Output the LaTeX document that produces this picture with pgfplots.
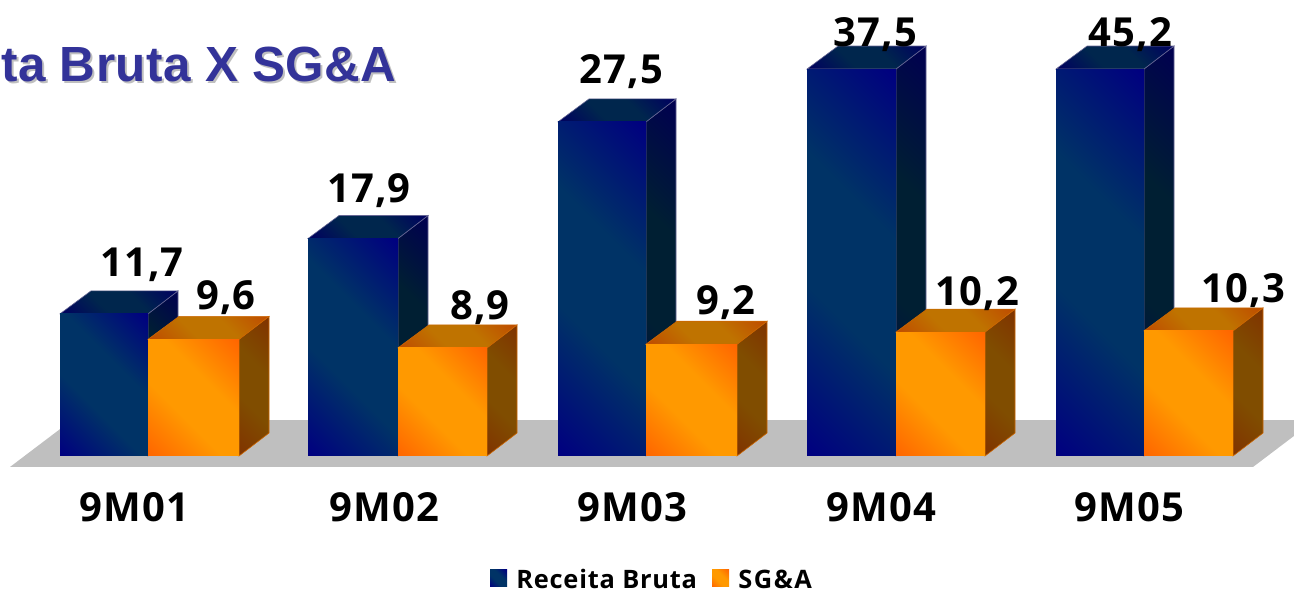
\documentclass[border=0pt]{standalone}
\usepackage{fontspec}
\usepackage{pgfplots}
\pgfplotsset{compat=1.18}
\setmainfont{Open Sans}
\newfontfamily\labfont[LetterSpace=3]{Open Sans}
\newfontfamily\legfont[LetterSpace=6]{Open Sans}
\newfontfamily\titlefont[LetterSpace=1]{Liberation Sans}

% diagonal three-stop fills as in the office chart
\newcommand{\diagshade}[3]{%
  \definecolor{c1}{HTML}{#2}\definecolor{c2}{HTML}{#3}%
  \pgfdeclarehorizontalshading{#1}{100bp}{color(0bp)=(c1); color(15bp)=(c1); color(40bp)=(c2); color(60bp)=(c2); color(85bp)=(c1); color(100bp)=(c1)}}
\diagshade{bluefront}{000080}{003366}
\diagshade{blueside}{000050}{001F33}
\diagshade{bluetop}{000060}{00264D}
\diagshade{orfront}{FF6600}{FF9900}
\diagshade{orside}{803300}{804D00}
\diagshade{ortop}{BF4C00}{BF7300}

% x in reference pixels, y in data units (12.15 px per unit, axis cut at 31.85)
\newcommand{\barbox}[7]{%
  \edef\tmp{\noexpand\addplot[shade,shading=#5,shading angle=45,draw=#7,line width=0.3pt] coordinates {%
    (#2,0) (\fpeval{#2+30},1.89) (\fpeval{#2+30},\fpeval{min(#3,31.85)+1.89}) (#2,\fpeval{min(#3,31.85)})} --cycle;
  \noexpand\addplot[shade,shading=#6,shading angle=45,draw=#7,line width=0.3pt] coordinates {%
    (#1,\fpeval{min(#3,31.85)}) (\fpeval{#1+31},\fpeval{min(#3,31.85)+1.89}) (\fpeval{#2+30},\fpeval{min(#3,31.85)+1.89}) (#2,\fpeval{min(#3,31.85)})} --cycle;
  \noexpand\addplot[shade,shading=#4,shading angle=45,draw=none] coordinates {%
    (#1,0) (#2,0) (#2,\fpeval{min(#3,31.85)}) (#1,\fpeval{min(#3,31.85)})} --cycle;}\tmp}
\newcommand{\bluebar}[3]{\barbox{#1}{#2}{#3}{bluefront}{blueside}{bluetop}{blue!30!black!60!white}}
\newcommand{\orbar}[3]{\barbox{#1}{#2}{#3}{orfront}{orside}{ortop}{orange!80!black}}

\begin{document}
\begin{tikzpicture}
\path[use as bounding box] (0,0) rectangle (647pt,295pt);
\begin{axis}[
    at={(0,0)}, anchor=south west,
    scale only axis,
    width=647pt, height=295pt,
    xmin=0, xmax=1294,
    ymin=-11.03, ymax=37.53,
    axis lines=none,
    clip=true,
]
% floor
\addplot[fill=black!25,draw=none] coordinates {(10,-0.905) (1253,-0.905) (1315,2.96) (72,2.96)} --cycle;

% Receita Bruta / SG&A
\bluebar{60}{148}{11.7}
\orbar{148}{239}{9.6}
\bluebar{308}{398}{17.9}
\orbar{398}{487}{8.9}
\bluebar{558}{646}{27.5}
\orbar{646}{737}{9.2}
\bluebar{807}{896}{37.5}
\orbar{896}{985}{10.2}
\bluebar{1056}{1144}{45.2}
\orbar{1144}{1233}{10.3}

% legend swatches
\addplot[shade,shading=bluefront,shading angle=45,draw=none] coordinates {(490,-10.78) (507,-10.78) (507,-9.38) (490,-9.38)} --cycle;
\addplot[shade,shading=orfront,shading angle=45,draw=none] coordinates {(712,-10.78) (729,-10.78) (729,-9.38) (712,-9.38)} --cycle;

% value labels
\begin{scope}[every node/.style={font=\fontsize{20}{24}\labfont\bfseries,inner sep=0pt}]
\node at (axis cs:142,15.7) {11,7};
\node at (axis cs:226,13.0) {9,6};
\node at (axis cs:369,21.8) {17,9};
\node at (axis cs:480,12.2) {8,9};
\node at (axis cs:621,31.6) {27,5};
\node at (axis cs:726,12.6) {9,2};
\node at (axis cs:875,34.7) {37,5};
\node at (axis cs:977,13.4) {10,2};
\node at (axis cs:1130,34.7) {45,2};
\node at (axis cs:1243,13.65) {10,3};
\node at (axis cs:134,-4.22) {9M01};
\node at (axis cs:384,-4.22) {9M02};
\node at (axis cs:632,-4.22) {9M03};
\node at (axis cs:881,-4.22) {9M04};
\node at (axis cs:1129,-4.22) {9M05};
\end{scope}

% legend text
\node[anchor=west,inner sep=0pt,font=\fontsize{12.7}{15}\labfont\bfseries] at (axis cs:516,-10.12) {Receita Bruta};
\node[anchor=west,inner sep=0pt,font=\fontsize{12.7}{15}\legfont\bfseries] at (axis cs:738,-10.12) {SG\&A};

% title, starts cut by the left edge as in the reference
\node[anchor=east,inner sep=0pt,text=black!25,font=\fontsize{24.7}{28}\titlefont\bfseries] at (axis cs:399,32.05) {ta Bruta X SG\&A};
\node[anchor=east,inner sep=0pt,text={rgb,255:red,51;green,51;blue,153},font=\fontsize{24.7}{28}\titlefont\bfseries] at (axis cs:397,32.2) {ta Bruta X SG\&A};
\end{axis}
\end{tikzpicture}
\end{document}
